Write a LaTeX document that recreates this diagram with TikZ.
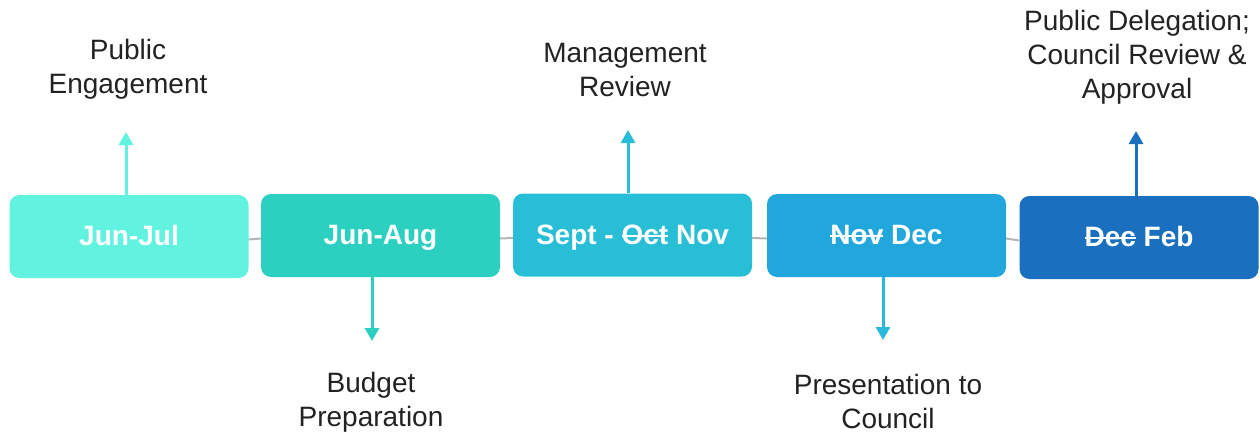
\documentclass[tikz,border=0pt]{standalone}
\usepackage{fontspec}
\setmainfont{Liberation Sans}
\usetikzlibrary{arrows.meta}

\newcommand{\strk}[1]{\setbox0\hbox{#1}\rlap{\rule[0.5ex]{\wd0}{1.8pt}}\box0\relax}

\definecolor{monA}{HTML}{62F2E0}
\definecolor{monB}{HTML}{2BD0C0}
\definecolor{monC}{HTML}{27BED6}
\definecolor{monD}{HTML}{22A7DD}
\definecolor{monE}{HTML}{1A6FBE}
\definecolor{arrD}{HTML}{29B9DA}
\definecolor{linkgray}{HTML}{B4B4B4}
\definecolor{txt}{HTML}{222222}

\tikzset{
    month/.style={rounded corners=10pt, minimum width=239pt, minimum height=83pt,
        inner sep=0pt, text height=22pt, text depth=4pt, text=white,
        font=\fontsize{28}{34}\selectfont\bfseries},
    phase/.style={align=center, text=txt, inner sep=0pt,
        font=\fontsize{28}{34}\selectfont},
    link/.style={draw=linkgray, line width=2pt},
    flow/.style={-{Triangle[width=14pt,length=13pt]}, line width=3pt}
}

\begin{document}
\begin{tikzpicture}[x=1pt, y=-1pt]
        \useasboundingbox (0,0) rectangle (1260,434);

        % months
        \node[month, fill=monA] (jun) at (129,236.5) {Jun-Jul};
        \node[month, fill=monB] (aug) at (380.5,235.5) {Jun-Aug};
        \node[month, fill=monC] (nov) at (632.5,235) {Sept - \strk{Oct} Nov};
        \node[month, fill=monD] (dec) at (886.5,235.5) {\strk{Nov} Dec};
        \node[month, fill=monE] (feb) at (1139,237.5) {\strk{Dec} Feb};

        \draw[link] ([yshift=-3pt]jun.east) -- ([yshift=-3pt]aug.west);
        \draw[link] ([yshift=-3pt]aug.east) -- ([yshift=-3pt]nov.west);
        \draw[link] ([yshift=-3pt]nov.east) -- ([yshift=-3pt]dec.west);
        \draw[link] ([yshift=-3pt]dec.east) -- ([yshift=-3pt]feb.west);

        % phases
        \node[phase] (engage)  at (128,69.5)  {Public\\Engagement};
        \node[phase] (budget)  at (371,402)   {Budget\\Preparation};
        \node[phase] (mgmt)    at (625,70)    {Management\\Review};
        \node[phase] (present) at (888,401.5) {Presentation to\\Council};
        \node[phase] (approve) at (1137,57.5) {Public Delegation;\\Council Review \&\\Approval};

        \coordinate (tipA) at (126,132);
        \coordinate (tipB) at (372,341);
        \coordinate (tipC) at (628,130);
        \coordinate (tipD) at (883,340);
        \coordinate (tipE) at (1136,131);

        \draw[flow, monA] (tipA |- jun.north) -- (tipA);
        \draw[flow, monB] (tipB |- aug.south) -- (tipB);
        \draw[flow, monC] (tipC |- nov.north) -- (tipC);
        \draw[flow, arrD] (tipD |- dec.south) -- (tipD);
        \draw[flow, monE] (tipE |- feb.north) -- (tipE);
\end{tikzpicture}
\end{document}
